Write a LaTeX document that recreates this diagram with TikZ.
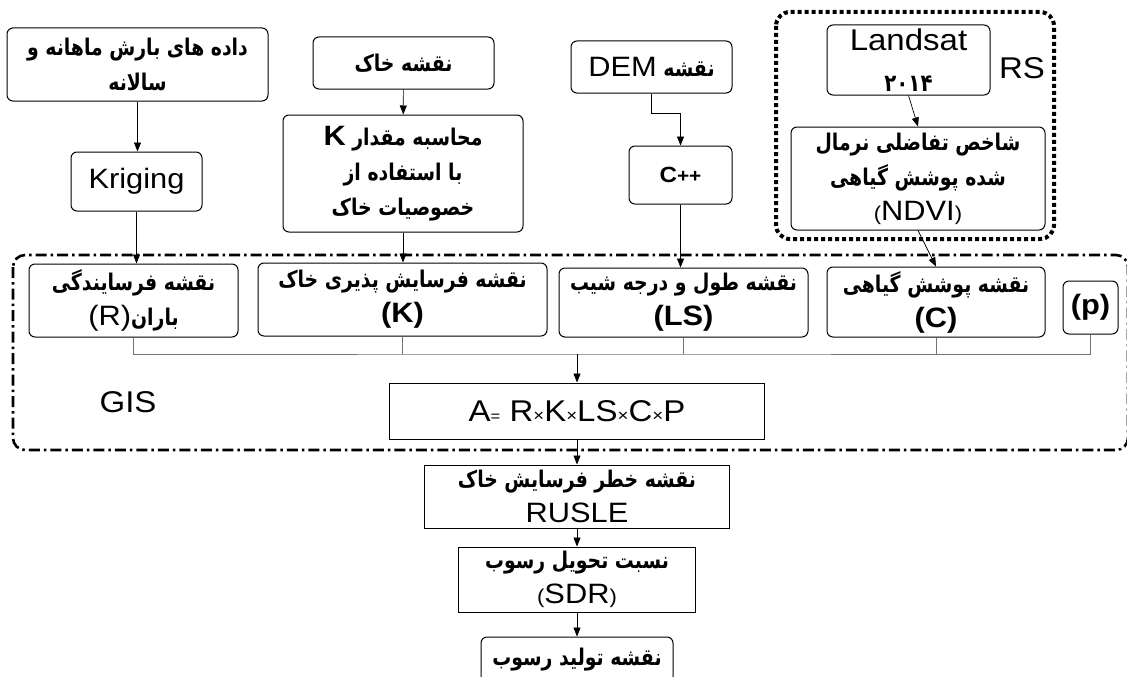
\documentclass[tikz,border=0pt]{standalone}
\usepackage{fontspec}
\setmainfont[FakeStretch=1.1]{Liberation Sans}
\newfontfamily\fa[Script=Arabic,FakeStretch=0.82]{DejaVu Sans}
\TeXXeTstate=1
\usetikzlibrary{arrows.meta,positioning}

\newcommand{\faline}[1]{{\fa\bfseries\beginR #1\endR}}
\newcommand{\lat}[1]{{\fontsize{28}{35}\selectfont #1}}
\newcommand{\latbig}[1]{{\fontsize{30}{35}\selectfont #1}}
\newcommand{\smx}{{\fontsize{17}{17}\selectfont ×}}

\tikzset{
  rbox/.style={draw, rounded corners=6pt, line width=1pt, align=center, inner sep=0pt},
  sbox/.style={draw, line width=1pt, align=center, inner sep=0pt},
  link/.style={-{Triangle[length=9pt,width=7pt]}, line width=0.7pt},
  bus/.style={line width=0.7pt, black!55},
  rsframe/.style={line width=4pt, dash pattern=on 4pt off 3pt, rounded corners=14pt},
  gisframe/.style={line width=2.6pt, dash pattern=on 11pt off 4pt on 2.5pt off 4pt, rounded corners=12pt},
}

\begin{document}
\begin{tikzpicture}[x=1pt,y=-1pt,font=\fontsize{23}{35}\selectfont]
  \useasboundingbox (0,0) rectangle (1127,677);

  % inputs
  \node[rbox, minimum width=261pt, minimum height=73pt] (rain) at (137.5,64.5) {\faline{داده های بارش ماهانه و}\\ \faline{سالانه}};
  \node[rbox, minimum width=131pt, minimum height=59pt] (kriging) at (136.5,181.5) {\lat{Kriging}};
  \node[rbox, minimum width=181pt, minimum height=52pt] (soil) at (403.5,63) {\faline{نقشه خاک}};
  \node[rbox, minimum width=240pt, minimum height=117pt] (calc) at (403,173.5) {\faline{محاسبه مقدار \beginL{\rmfamily\bfseries\fontsize{28}{35}\selectfont K}\endL}\\ \faline{با استفاده از}\\ \faline{خصوصیات خاک}};
  \node[rbox, minimum width=161pt, minimum height=52pt] (dem) at (651.5,67) {\faline{نقشه \beginL{\rmfamily\mdseries\fontsize{28}{35}\selectfont DEM}\endL}};
  \node[rbox, minimum width=103pt, minimum height=58pt] (cpp) at (680.5,175) {{\bfseries\fontsize{22}{22}\selectfont C{\fontsize{19}{19}\selectfont ++}}};

  % remote sensing
  \draw[rsframe] (776,12) rectangle (1054,239);
  \node[rbox, minimum width=163pt, minimum height=70pt] (landsat) at (908.5,60) {\latbig{Landsat}\\[6pt] {\fa\bfseries\fontsize{24}{24}\selectfont ۲۰۱۴}};
  \node[rbox, minimum width=254pt, minimum height=103pt] (ndvi) at (918,178.5) {\faline{شاخص تفاضلی نرمال}\\ \faline{شده پوشش گیاهی}\\ \lat{{\fontsize{20}{20}\selectfont(}NDVI{\fontsize{20}{20}\selectfont)}}};
  \node (rs) at (1022,68) {\latbig{RS}};

  % GIS
  \draw[gisframe] (13,255) rectangle (1128,450);
  \node[rbox, minimum width=209pt, minimum height=73pt] (rbox) at (133.5,300.5) {\faline{نقشه فرسایندگی}\\ \faline{باران\beginL{\rmfamily\mdseries\fontsize{28}{35}\selectfont(R)}\endL}};
  \node[rbox, minimum width=289pt, minimum height=73pt] (kbox) at (402.5,299.5) {\faline{نقشه فرسایش پذیری خاک}\\ \lat{\bfseries(K)}};
  \node[rbox, minimum width=249pt, minimum height=69pt] (lsbox) at (683.5,302.5) {\faline{نقشه طول و درجه شیب}\\ \lat{\bfseries(LS)}};
  \node[rbox, minimum width=218pt, minimum height=70pt] (cbox) at (936,302) {\faline{نقشه پوشش گیاهی}\\ \lat{\bfseries(C)}};
  \node[rbox, minimum width=55pt, minimum height=53pt] (pbox) at (1090.5,307.5) {\lat{\bfseries(p)}};
  \node (gis) at (128,402) {\latbig{GIS}};
  \node[sbox, minimum width=375pt, minimum height=56pt] (usle) at (577,411) {\latbig{A{\fontsize{15}{15}\selectfont =} R\smx K\smx LS\smx C\smx P}};

  % outputs
  \node[sbox, minimum width=305pt, minimum height=63pt] (rusle) at (577,496.5) {\faline{نقشه خطر فرسایش خاک}\\ \lat{RUSLE}};
  \node[sbox, minimum width=237pt, minimum height=65pt] (sdr) at (577,579.5) {\faline{نسبت تحویل رسوب}\\ \lat{{\fontsize{20}{20}\selectfont(}SDR{\fontsize{20}{20}\selectfont)}}};
  \node[rbox, minimum width=192pt, minimum height=46pt] (sed) at (577,660) {\faline{نقشه تولید رسوب}};

  \draw[link] (rain.south) -- (rain.south |- kriging.north);
  \draw[link] (kriging.south) -- (kriging.south |- rbox.north);
  \draw[link] (soil) -- (calc);
  \draw[link] (calc.south) -- (calc.south |- kbox.north);
  \draw[link] (dem.south) -- ++(0,20) -| (cpp.north);
  \draw[link] (cpp.south) -- (cpp.south |- lsbox.north);
  \draw[link] (landsat.south) -- (ndvi.north);
  \draw[link] (ndvi.south) -- (cbox.north);

  \coordinate (bus) at (577,354);
  \draw[bus] (rbox.south) |- (bus) -| (pbox.south);
  \foreach \n in {kbox,lsbox,cbox}
    \draw[bus] (\n.south) -- (\n.south |- bus);
  \draw[link] (bus) -- (usle.north);
  \draw[link] (usle) -- (rusle);
  \draw[link] (rusle) -- (sdr);
  \draw[link] (sdr) -- (sed);
\end{tikzpicture}
\end{document}
